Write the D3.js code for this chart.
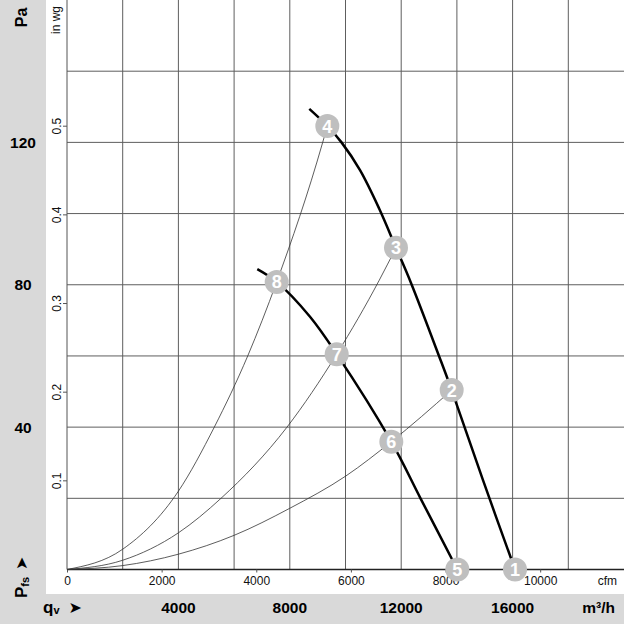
<!DOCTYPE html>
<html>
<head>
<meta charset="utf-8">
<script src="https://cdn.jsdelivr.net/npm/d3@7"></script>
<style>
  body { margin: 0; background: #fff; }
  svg { display: block; font-family: "Liberation Sans", Arial, sans-serif; }
</style>
</head>
<body>
<div id="chart"></div>
<script>
// fan curves, [m3/h, Pa]
var speedHigh = [[8700,129.4],[9347,124.6],[9857,120],[10521,112.2],[11203,101.5],[11813,90.4],
                 [12352,80.5],[13357,60],[13813,50.4],[14937,25.1],[16086,0]];
var speedLow  = [[6833,84.4],[7530,80.8],[8726,71],[9684,60.5],[11645,35.9],[12693,20],[14015,0]];

// system curves
var systemSteep = [[0,0],[2000,5.7],[4000,22],[5289,40],[6489,60],[7530,80.8],[9181,120],[9347,124.6]];
var systemMid   = [[0,0],[2000,2.6],[4000,10.3],[5530,20],[7900,40],[9684,60.5],[11214,81.3],[11813,90.4]];
var systemFlat  = [[0,0],[2000,1.1],[4000,4.3],[6000,9.6],[8000,17.2],[10018,26.3],[11645,35.9],[13813,50.4]];

// operating points
var markerIds = [1, 2, 3, 4, 5, 6, 7, 8];
var markerQ   = [16086, 13813, 11813, 9347, 14015, 11645, 9684, 7530];
var markerP   = [0, 50.4, 90.4, 124.6, 0, 35.9, 60.5, 80.8];

// tick labels
var paTicks   = [40, 80, 120];
var m3hTicks  = [4000, 8000, 12000, 16000];
var cfmTicks  = [0, 2000, 4000, 6000, 8000, 10000];
var inwgTicks = [0.1, 0.2, 0.3, 0.4, 0.5];

var width = 624, height = 624;
var plot = { left: 67, right: 624, top: 0, bottom: 569.5 };

var svg = d3.select("#chart").append("svg")
  .attr("width", width)
  .attr("height", height);

var x = d3.scaleLinear().domain([0, 20000]).range([plot.left, plot.right]);
var y = d3.scaleLinear().domain([0, 160]).range([plot.bottom, plot.top]);
var xCfm = d3.scaleLinear().domain([0, 20000 / 1.69901]).range([plot.left, plot.right]);
var yInwg = d3.scaleLinear().domain([0, 160 / 249.089]).range([plot.bottom, plot.top]);

// grey bands
svg.append("rect").attr("x", 0).attr("y", 0).attr("width", 46).attr("height", 594).attr("fill", "#d9d9d9");
svg.append("rect").attr("x", 0).attr("y", 594).attr("width", width).attr("height", 30).attr("fill", "#d9d9d9");

// grid
var grid = svg.append("g").attr("class", "grid").attr("stroke", "#5e5e5e").attr("stroke-width", 1);
grid.selectAll("line.v")
  .data(d3.range(2000, 20000, 2000))
  .enter().append("line")
  .attr("x1", function (d) { return x(d); })
  .attr("x2", function (d) { return x(d); })
  .attr("y1", plot.top).attr("y2", plot.bottom);
grid.selectAll("line.h")
  .data(d3.range(20, 160, 20))
  .enter().append("line")
  .attr("y1", function (d) { return y(d); })
  .attr("y2", function (d) { return y(d); })
  .attr("x1", plot.left).attr("x2", plot.right);

// axis lines
svg.append("line").attr("x1", plot.left).attr("x2", plot.left).attr("y1", 0).attr("y2", plot.bottom)
  .attr("stroke", "#555").attr("stroke-width", 1);
svg.append("line").attr("x1", plot.left).attr("x2", plot.right).attr("y1", plot.bottom).attr("y2", plot.bottom)
  .attr("stroke", "#222").attr("stroke-width", 1.5);

// cfm axis under the plot
var cfmAxis = svg.append("g")
  .attr("transform", "translate(0," + plot.bottom + ")")
  .call(d3.axisBottom(xCfm).tickValues(cfmTicks).tickSize(3).tickPadding(4).tickFormat(d3.format("d")));
cfmAxis.select(".domain").remove();
cfmAxis.selectAll("line").attr("stroke", "#555");
cfmAxis.selectAll("text").attr("font-size", 12).attr("fill", "#111")
  .attr("font-family", "Liberation Sans, Arial, sans-serif");
svg.append("text").attr("x", 617).attr("y", 585).attr("text-anchor", "end")
  .attr("font-size", 12).attr("fill", "#111").text("cfm");

// in wg axis, small ticks and rotated labels
var inwg = svg.append("g");
inwg.selectAll("line")
  .data(inwgTicks).enter().append("line")
  .attr("x1", plot.left - 4).attr("x2", plot.left)
  .attr("y1", function (d) { return yInwg(d); })
  .attr("y2", function (d) { return yInwg(d); })
  .attr("stroke", "#555");
inwg.selectAll("text")
  .data(inwgTicks).enter().append("text")
  .attr("transform", function (d) { return "translate(60.5," + yInwg(d) + ") rotate(-90)"; })
  .attr("text-anchor", "middle")
  .attr("font-size", 12).attr("fill", "#111")
  .text(function (d) { return d3.format(".1f")(d); });
svg.append("text").attr("transform", "translate(60,20) rotate(-90)")
  .attr("text-anchor", "middle").attr("font-size", 12).attr("fill", "#111").text("in wg");

// Pa labels in the left band
svg.selectAll("text.pa")
  .data(paTicks).enter().append("text")
  .attr("class", "pa")
  .attr("x", 23).attr("y", function (d) { return y(d) + 5.5; })
  .attr("text-anchor", "middle").attr("font-size", 15.5).attr("font-weight", "bold")
  .text(function (d) { return d; });
svg.append("text").attr("transform", "translate(27,17.5) rotate(-90)")
  .attr("text-anchor", "middle").attr("font-size", 16).attr("font-weight", "bold").text("Pa");

// m3/h labels in the bottom band
svg.selectAll("text.m3h")
  .data(m3hTicks).enter().append("text")
  .attr("class", "m3h")
  .attr("x", function (d) { return x(d); }).attr("y", 613)
  .attr("text-anchor", "middle").attr("font-size", 15.5).attr("font-weight", "bold")
  .text(function (d) { return d; });
svg.append("text").attr("x", 615).attr("y", 613).attr("text-anchor", "end")
  .attr("font-size", 15.5).attr("font-weight", "bold").text("m³/h");

// axis names
var pfs = svg.append("text").attr("transform", "translate(27,598) rotate(-90)")
  .attr("font-weight", "bold");
pfs.append("tspan").attr("font-size", 17).text("P");
pfs.append("tspan").attr("font-size", 11).attr("dy", 1.5).text("fs");
pfs.append("tspan").attr("font-size", 16).attr("dy", -1.5).attr("dx", 7)
  .attr("font-family", "DejaVu Sans").text("➤");

var qv = svg.append("text").attr("x", 43).attr("y", 612.5).attr("font-weight", "bold");
qv.append("tspan").attr("font-size", 17).text("q");
qv.append("tspan").attr("font-size", 11).attr("dy", 1).text("v");
qv.append("tspan").attr("font-size", 16).attr("dy", -1).attr("dx", 9)
  .attr("font-family", "DejaVu Sans").text("➤");

// curves
var systemLine = d3.line()
  .x(function (d) { return x(d[0]); })
  .y(function (d) { return y(d[1]); })
  .curve(d3.curveMonotoneX);

var fanLine = d3.line()
  .x(function (d) { return x(d[0]); })
  .y(function (d) { return y(d[1]); })
  .curve(d3.curveCatmullRom.alpha(0.5));

svg.selectAll("path.system")
  .data([systemSteep, systemMid, systemFlat])
  .enter().append("path")
  .attr("class", "system")
  .attr("d", systemLine)
  .attr("fill", "none")
  .attr("stroke", "#333")
  .attr("stroke-width", 0.8);

svg.selectAll("path.fan")
  .data([speedHigh, speedLow])
  .enter().append("path")
  .attr("class", "fan")
  .attr("d", fanLine)
  .attr("fill", "none")
  .attr("stroke", "#000")
  .attr("stroke-width", 2.5);

// numbered markers
var markers = svg.selectAll("g.marker")
  .data(markerIds)
  .enter().append("g")
  .attr("class", "marker")
  .attr("transform", function (d, i) {
    return "translate(" + x(markerQ[i]) + "," + y(markerP[i]) + ")";
  });
markers.append("circle").attr("r", 12).attr("fill", "#bfbfbf");
markers.append("text")
  .attr("text-anchor", "middle").attr("y", 6.5)
  .attr("font-size", 18).attr("font-weight", "bold").attr("fill", "#fff")
  .text(function (d) { return d; });
</script>
</body>
</html>
